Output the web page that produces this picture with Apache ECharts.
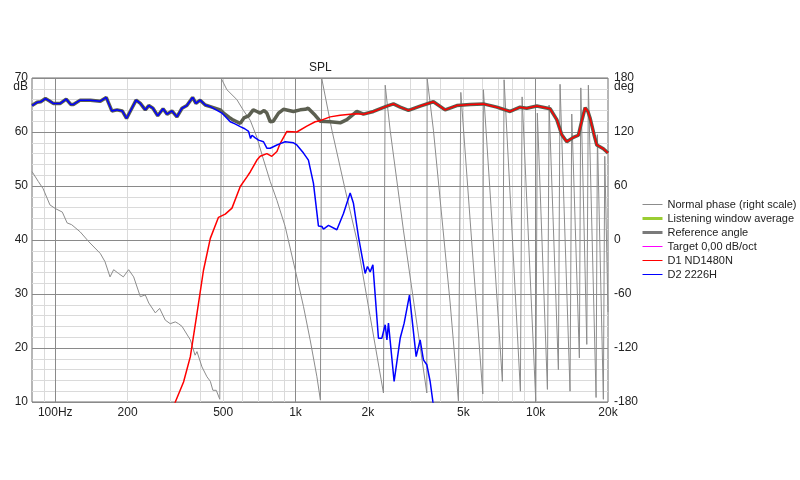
<!DOCTYPE html>
<html>
<head>
<meta charset="utf-8">
<script src="https://cdn.jsdelivr.net/npm/echarts@6/dist/echarts.min.js"></script>
<style>
  html, body { margin: 0; padding: 0; background: #fff; }
  #chart { width: 800px; height: 480px; }
</style>
</head>
<body>
<div id="chart"></div>
<script>
// x axis ticks / grid (Hz)
const freqTicks = [100, 200, 500, 1000, 2000, 5000, 10000, 20000];
const freqTickLabels = ['100Hz', '200', '500', '1k', '2k', '5k', '10k', '20k'];
const gridMinorFreq = [90, 200, 300, 400, 500, 600, 700, 800, 900,
  2000, 3000, 4000, 5000, 6000, 7000, 8000, 9000];
const gridMajorFreq = [100, 1000, 10000];

// SPL, [Hz, dB]
// low band: reference angle and D2 overlap here
const refLow = [[80, 64.9], [84, 65.5], [87, 65.6], [91, 66.2], [95, 65.7], [98, 65.3], [105, 65.3],
  [111, 66.1], [116, 65.1], [119, 65.1], [127, 65.9], [140, 65.9], [154, 65.7], [163, 66.4],
  [172, 63.9], [181, 64.1], [190, 63.9], [198, 62.5], [205, 63.8], [217, 65.9], [226, 65.3],
  [237, 64.1], [245, 64.9], [255, 64.4], [267, 63.0], [281, 64.3], [292, 63.3], [306, 63.9],
  [321, 62.8], [337, 64.4], [353, 64.9], [373, 66.4], [385, 65.3], [401, 65.9], [421, 65.0],
  [442, 64.7]];
// crossover region, reference angle only
const refMid = [[486, 64.1], [502, 63.5], [530, 62.7], [551, 62.2], [570, 61.9], [589, 61.6],
  [610, 62.6], [638, 63.0], [667, 64.1], [691, 63.8], [713, 63.5], [740, 64.0], [760, 63.5],
  [785, 61.9], [808, 62.0], [850, 63.5], [891, 64.2], [981, 63.8], [1046, 64.1], [1097, 64.2],
  [1129, 64.4], [1208, 63.1], [1267, 62.0], [1394, 61.9], [1535, 61.7], [1637, 62.3],
  [1801, 63.8]];
// high band: reference angle and D1 overlap here
const refHigh = [[1919, 63.3], [2112, 63.8], [2401, 64.8], [2557, 65.2], [2728, 64.6], [2953, 64.0],
  [3303, 64.8], [3752, 65.6], [4198, 64.1], [4695, 64.9], [5333, 65.1], [6058, 65.2],
  [6888, 64.6], [7825, 63.8], [8610, 64.6], [9180, 64.4], [10110, 64.8], [11480, 64.3],
  [12240, 62.3], [12840, 59.5], [13470, 58.2], [14350, 59.0], [15060, 59.4], [15500, 61.8],
  [16060, 64.5], [16500, 63.8], [16840, 62.6], [17500, 59.5], [17960, 57.6], [19130, 56.9],
  [20000, 56.1]];
const d1Low = [[300, 7], [316, 10], [342, 13.7], [365, 18.4], [389, 26.4], [414, 34.4], [442, 40.3],
  [478, 44.2], [510, 44.8], [544, 45.9], [589, 49.9], [628, 51.7], [648, 52.6], [691, 54.8],
  [713, 55.5], [760, 56.0], [797, 55.5], [837, 56.4], [864, 57.9], [921, 60.1], [1013, 60.0],
  [1115, 61.1], [1208, 61.9], [1267, 62.1], [1394, 62.8], [1535, 63.1], [1689, 63.3], [1801, 63.4]];
const d2High = [[494, 63.5], [535, 61.9], [560, 61.5], [589, 61.0], [615, 60.6], [638, 60.1],
  [650, 58.8], [659, 59.4], [680, 58.9], [702, 58.5], [736, 58.2], [760, 57.0], [785, 57.0],
  [837, 57.6], [870, 57.9], [906, 58.2], [981, 58.0], [1013, 57.6], [1080, 56.1], [1132, 54.8],
  [1188, 50.5], [1246, 42.6], [1288, 42.5], [1308, 42.0], [1372, 42.7], [1487, 41.9], [1584, 44.9],
  [1689, 48.7], [1743, 46.8], [1829, 40.6], [1950, 33.8], [1994, 35.1], [2046, 34.1], [2100, 35.4],
  [2215, 21.8], [2288, 21.8], [2363, 24.3], [2402, 21.5], [2438, 24.6], [2574, 13.8], [2728, 21.8],
  [2834, 24.6], [2982, 29.8], [3179, 18.4], [3303, 21.5], [3409, 17.8], [3522, 16.9], [3636, 13.8],
  [3731, 10.1], [3800, 8]];

// phase, [Hz, deg], wrapped at +-180
const phase = [[80, 76], [85, 65], [89, 57], [95, 39], [100, 35], [107, 31], [112, 19], [117, 17],
  [127, 9], [138, -2], [154, -15], [161, -24], [169, -41], [175, -33], [183, -37], [192, -41],
  [202, -33], [212, -41], [226, -63], [237, -61], [245, -70], [261, -81], [272, -76], [287, -89],
  [301, -93], [316, -91], [326, -93], [337, -96], [365, -111], [382, -128], [389, -124],
  [408, -141], [428, -152], [442, -157], [453, -167], [468, -167], [484, -177],
  [492, 179], [518, 167], [570, 156], [607, 144], [648, 133], [691, 114], [725, 95], [785, 65],
  [837, 44], [906, 15], [997, -33], [1080, -74], [1151, -111], [1228, -152], [1270, -178],
  [1285, 180], [1418, 122], [1610, 56], [1801, 0], [2046, -85], [2324, -170],
  [2363, 172], [2478, 122], [2814, 11], [3522, -170],
  [3532, 180], [3752, 122], [4404, -70], [4768, -179],
  [4879, 164], [6023, -171],
  [6058, 167], [7267, -157],
  [7387, 178], [8636, -168],
  [8778, 159], [10010, -179],
  [10160, 141], [11190, -166],
  [11370, 150], [12430, -144],
  [12630, 173], [13900, -168],
  [14130, 140], [15200, -131],
  [15410, 169], [16320, -116],
  [16570, 172], [17840, -175],
  [18070, 117], [19130, -177],
  [19390, 93], [20000, -80]];

const font = 'Liberation Sans, Arial, sans-serif';
const txt = '#222';
const fMin = 80, fMax = 20000;

// hidden log axis that only draws vertical grid lines at the given values
function gridAxis(values, color, z) {
  return {
    type: 'log', min: fMin, max: fMax, position: 'bottom', z: z,
    axisLine: { show: false },
    axisTick: { show: false, customValues: values },
    axisLabel: { show: false },
    splitLine: { show: true, lineStyle: { color: color, width: 1 } },
    minorSplitLine: { show: false }
  };
}

const chart = echarts.init(document.getElementById('chart'));
const option = {
  animation: false,
  backgroundColor: '#fff',
  textStyle: { fontFamily: font },
  title: {
    text: 'SPL',
    left: 309,
    top: 62,
    padding: 0,
    textStyle: { fontSize: 12, fontWeight: 'normal', color: txt, fontFamily: font }
  },
  legend: {
    orient: 'vertical',
    left: 636,
    top: 194,
    itemWidth: 20,
    itemHeight: 10,
    itemGap: 3,
    itemStyle: { opacity: 0 },
    textStyle: { fontSize: 11, color: txt, fontFamily: font },
    data: [
      { name: 'Normal phase (right scale)', lineStyle: { color: '#8c8c8c', width: 1 } },
      { name: 'Listening window average', lineStyle: { color: '#9acd32', width: 3 } },
      { name: 'Reference angle', lineStyle: { color: '#7a7a7a', width: 3 } },
      { name: 'Target 0,00 dB/oct', lineStyle: { color: '#ff00ff', width: 1 } },
      { name: 'D1 ND1480N', lineStyle: { color: '#ff0000', width: 1 } },
      { name: 'D2 2226H', lineStyle: { color: '#0000ff', width: 1 } }
    ]
  },
  grid: {
    left: 32, right: 192, top: 78, bottom: 78,
    show: true, borderColor: '#6e6e6e', borderWidth: 1,
    outerBoundsMode: 'none'
  },
  xAxis: [
    {
      type: 'log',
      min: fMin,
      max: fMax,
      z: 3,
      axisLine: { show: false },
      axisTick: { show: false },
      splitLine: { show: false },
      minorSplitLine: { show: false },
      axisLabel: {
        customValues: freqTicks,
        color: txt, fontSize: 12, margin: 5, fontFamily: font,
        formatter: function (v) {
          const i = freqTicks.indexOf(Math.round(v));
          return i >= 0 ? freqTickLabels[i] : '';
        }
      }
    },
    gridAxis(gridMinorFreq, '#dadada', 0),
    gridAxis(gridMajorFreq, '#8a8a8a', 2)
  ],
  yAxis: [
    {
      type: 'value', position: 'left', min: 10, max: 70, interval: 10, z: 1,
      name: 'dB', nameLocation: 'end', nameGap: -3, nameMoveOverlap: false,
      nameTextStyle: { color: txt, fontSize: 12, align: 'right', verticalAlign: 'top', padding: [0, 4, 0, 0], fontFamily: font },
      axisLine: { show: false },
      axisTick: { show: false },
      axisLabel: { color: txt, fontSize: 12, margin: 4, fontFamily: font },
      splitLine: { lineStyle: { color: '#8a8a8a', width: 1 } },
      minorTick: { show: false, splitNumber: 5 },
      minorSplitLine: { show: true, lineStyle: { color: '#dadada', width: 1 } }
    },
    {
      type: 'value', position: 'right', min: -180, max: 180, interval: 60,
      name: 'deg', nameLocation: 'end', nameGap: -3, nameMoveOverlap: false,
      nameTextStyle: { color: txt, fontSize: 12, align: 'left', verticalAlign: 'top', padding: [0, 0, 0, 6], fontFamily: font },
      axisLine: { show: false },
      axisTick: { show: false },
      splitLine: { show: false },
      minorSplitLine: { show: false },
      axisLabel: { color: txt, fontSize: 12, margin: 6, fontFamily: font }
    }
  ],
  series: [
    {
      name: 'Normal phase (right scale)', type: 'line', yAxisIndex: 1, z: 4,
      symbol: 'none', data: phase,
      lineStyle: { color: '#8c8c8c', width: 1 }, itemStyle: { color: '#8c8c8c' }
    },
    {
      name: 'Listening window average', type: 'line', symbol: 'none', data: [], z: 4,
      lineStyle: { color: '#9acd32', width: 3 }, itemStyle: { color: '#9acd32' }
    },
    {
      name: 'Reference angle', type: 'line', symbol: 'none', z: 5,
      data: refLow.concat(refMid, refHigh),
      lineStyle: { color: '#5c5f51', width: 3.5 }, itemStyle: { color: '#7a7a7a' }
    },
    {
      name: 'Target 0,00 dB/oct', type: 'line', symbol: 'none', data: [], z: 4,
      lineStyle: { color: '#ff00ff', width: 1 }, itemStyle: { color: '#ff00ff' }
    },
    {
      name: 'D1 ND1480N', type: 'line', symbol: 'none', z: 6,
      data: d1Low.concat(refHigh),
      lineStyle: { color: '#ff0000', width: 1.5 }, itemStyle: { color: '#ff0000' }
    },
    {
      name: 'D2 2226H', type: 'line', symbol: 'none', z: 6,
      data: refLow.concat(d2High),
      lineStyle: { color: '#0000ff', width: 1.5 }, itemStyle: { color: '#0000ff' }
    }
  ]
};
chart.setOption(option);
</script>
</body>
</html>
